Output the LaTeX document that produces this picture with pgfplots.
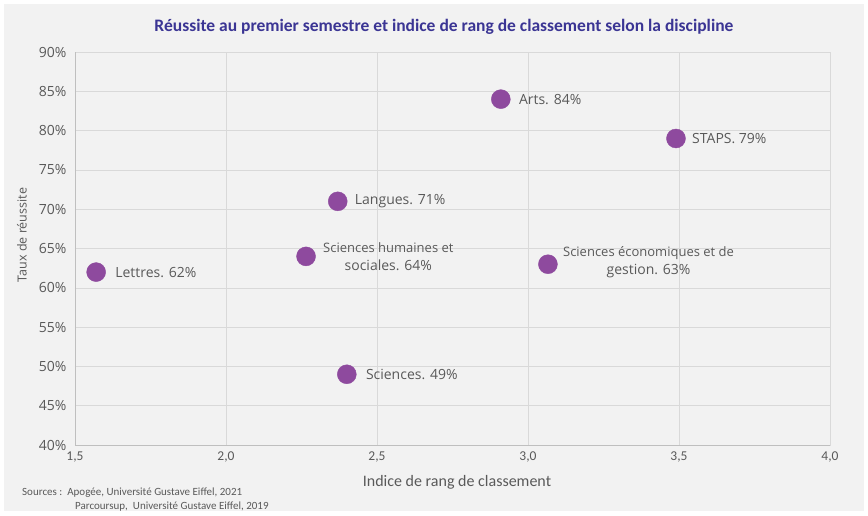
\documentclass[border=0pt]{standalone}
\usepackage{pgfplots}
\pgfplotsset{compat=1.18}
\usepackage{fontspec}
\setmainfont{Open Sans}
\newfontfamily\carlito{Carlito}
\definecolor{bg}{HTML}{F2F2F2}
\definecolor{gridc}{HTML}{D9D9D9}
\definecolor{axc}{HTML}{BFBFBF}
\definecolor{txt}{HTML}{595959}
\definecolor{ttl}{HTML}{3B3594}
\definecolor{ptc}{HTML}{8E4A9E}
\begin{document}
\begin{tikzpicture}[x=1pt,y=1pt]
\fill[white] (0,0) rectangle (868,515);
\fill[bg] (4,4) rectangle (864,511);
\begin{axis}[at={(75pt,70pt)}, anchor=south west, scale only axis,
  width=755pt, height=393pt,
  xmin=1.5, xmax=4, ymin=40, ymax=90,
  xtick={1.5,2,2.5,3,3.5,4}, ytick={40,45,...,90},
  grid=major, major grid style={draw=gridc, line width=0.6pt},
  axis line style={draw=gridc, line width=0.6pt},
  tick style={draw=none},
  /pgf/number format/assume math mode=true,
  /pgf/number format/use comma,
  xticklabel={\pgfmathprintnumber[fixed,fixed zerofill,precision=1]{\tick}},
  yticklabel={\pgfmathprintnumber{\tick}\%},
  xticklabel style={font=\carlito\fontsize{13.5}{14}\selectfont, text=txt, yshift=-3pt},
  yticklabel style={font=\fontsize{14}{15}\selectfont, text=txt, xshift=-5pt},
  clip=false,
]
\addplot[only marks, mark=*, mark size=9.5pt, mark options={fill=ptc, draw=ptc}] coordinates {
  (1.57,62) (2.265,64) (2.37,71) (2.40,49) (2.91,84) (3.066,63) (3.49,79)
};
\begin{scope}[every node/.style={anchor=west, inner sep=0pt, text=txt, font=\fontsize{14}{18}\selectfont, align=center}]
\node[xshift=19pt] at (axis cs:1.57,62) {Lettres. 62\%};
\node[xshift=17pt] at (axis cs:2.265,64) {\fontsize{13}{18}\selectfont Sciences humaines et\\sociales. 64\%};
\node[xshift=17pt] at (axis cs:2.37,71) {Langues. 71\%};
\node[xshift=19pt] at (axis cs:2.40,49) {Sciences. 49\%};
\node[xshift=18pt] at (axis cs:2.91,84) {Arts. 84\%};
\node[xshift=15pt, yshift=2pt] at (axis cs:3.066,63) {\fontsize{13}{18}\selectfont Sciences économiques et de\\gestion. 63\%};
\node[xshift=16pt] at (axis cs:3.49,79) {STAPS. 79\%};
\end{scope}
\draw[axc, line width=0.6pt] (axis cs:1.5,90) -- (axis cs:1.5,40) -- (axis cs:4,40);
\end{axis}
\node[text=ttl, font=\carlito\bfseries\fontsize{17.5}{18}\selectfont] at (444,488) {Réussite au premier semestre et indice de rang de classement selon la discipline};
\node[text=txt, rotate=90, font=\fontsize{12.5}{13}\selectfont] at (22,280) {Taux de réussite};
\node[text=txt, font=\carlito\fontsize{16}{17}\selectfont] at (457,33) {Indice de rang de classement};
\node[text=txt, anchor=west, inner sep=0pt, font=\carlito\fontsize{11}{12}\selectfont] at (22,22) {Sources :\ \ Apogée, Université Gustave Eiffel, 2021};
\node[text=txt, anchor=west, inner sep=0pt, font=\carlito\fontsize{11}{12}\selectfont] at (75,8.5) {Parcoursup,\ \ Université Gustave Eiffel, 2019};
\end{tikzpicture}
\end{document}
